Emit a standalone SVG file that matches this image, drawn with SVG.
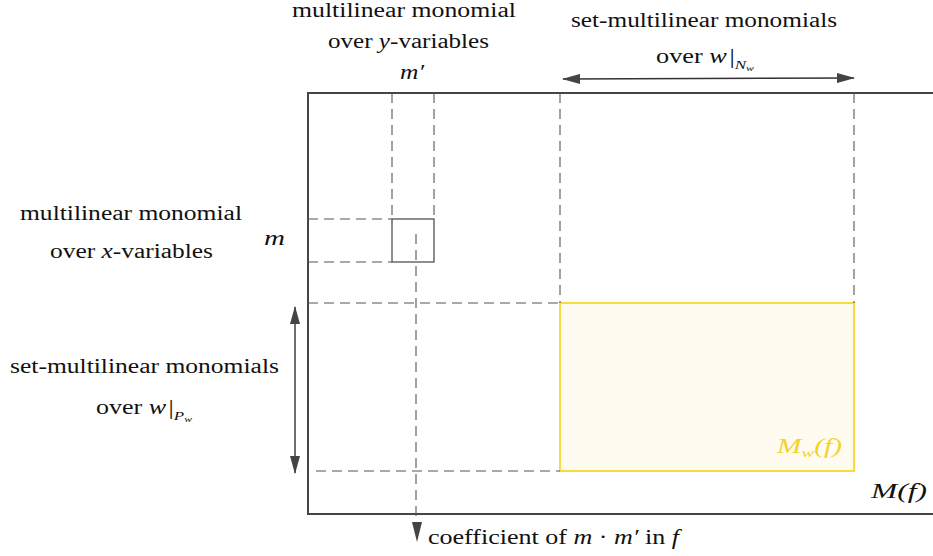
<svg xmlns="http://www.w3.org/2000/svg" width="933" height="556" viewBox="0 0 933 556">
<defs>
<marker id="ah" viewBox="0 0 18 10" refX="17" refY="5" markerWidth="18" markerHeight="10" markerUnits="userSpaceOnUse" orient="auto-start-reverse">
<path d="M0,0 L18,5 L0,10 z" fill="#444"/>
</marker>
<style>
text{font-family:"Liberation Serif","DejaVu Serif",serif;font-size:20px;fill:#111}
.i{font-style:italic}
.s{font-size:13px}
.d{stroke:#555;stroke-width:1.1;stroke-dasharray:10,6;fill:none}
.a{stroke:#333;stroke-width:1.4;fill:none}
</style>
</defs>
<g id="main-matrix">
<rect x="308" y="93" width="640" height="421" fill="none" stroke="#444" stroke-width="2"/>
</g>
<g id="submatrix">
<rect x="560" y="303" width="294" height="168" fill="#fffbf0" stroke="#f6dc3c" stroke-width="2"/>
<text x="777" y="453" textLength="65" lengthAdjust="spacingAndGlyphs" class="i" style="fill:#f3d32a">M<tspan class="s" dy="4">w</tspan><tspan dy="-4">(f)</tspan></text>
</g>
<g id="entry">
<rect x="392" y="219" width="42" height="43" fill="none" stroke="#444" stroke-width="1.2"/>
</g>
<g id="connectors">
<line class="d" x1="392" y1="93" x2="392" y2="219"/>
<line class="d" x1="434" y1="93" x2="434" y2="219"/>
<line class="d" x1="308" y1="219" x2="392" y2="219"/>
<line class="d" x1="308" y1="262" x2="392" y2="262"/>
<line class="d" x1="416" y1="234" x2="416" y2="522"/>
<line class="d" x1="560" y1="93" x2="560" y2="303"/>
<line class="d" x1="854" y1="93" x2="854" y2="303"/>
<line class="d" x1="308" y1="303" x2="560" y2="303"/>
<line class="d" x1="316" y1="471" x2="560" y2="471"/>
<path d="M412,522 L422,522 L417,542 z" fill="#444"/>
<line class="a" x1="563" y1="79" x2="854" y2="78" marker-start="url(#ah)" marker-end="url(#ah)"/>
<line class="a" x1="295" y1="307" x2="295" y2="473" marker-start="url(#ah)" marker-end="url(#ah)"/>
</g>
<g id="labels">
<text x="292" y="17" textLength="224" lengthAdjust="spacingAndGlyphs">multilinear monomial</text>
<text x="328" y="48" textLength="161" lengthAdjust="spacingAndGlyphs">over <tspan class="i">y</tspan>-variables</text>
<text x="400" y="79" textLength="24" lengthAdjust="spacingAndGlyphs" class="i">m′</text>
<text x="571" y="27" textLength="266" lengthAdjust="spacingAndGlyphs">set-multilinear monomials</text>
<text x="656" y="63" textLength="98" lengthAdjust="spacingAndGlyphs">over <tspan class="i">w</tspan><tspan dx="2">|</tspan><tspan class="s i" dy="6">N</tspan><tspan class="i" style="font-size:9px" dy="2">w</tspan></text>
<text x="20" y="220" textLength="222" lengthAdjust="spacingAndGlyphs">multilinear monomial</text>
<text x="50" y="258" textLength="163" lengthAdjust="spacingAndGlyphs">over <tspan class="i">x</tspan>-variables</text>
<text x="264" y="245" textLength="21" lengthAdjust="spacingAndGlyphs" class="i">m</text>
<text x="10" y="373" textLength="269" lengthAdjust="spacingAndGlyphs">set-multilinear monomials</text>
<text x="96" y="414" textLength="96" lengthAdjust="spacingAndGlyphs">over <tspan class="i">w</tspan><tspan dx="2">|</tspan><tspan class="s i" dy="6">P</tspan><tspan class="i" style="font-size:9px" dy="2">w</tspan></text>
<text x="428" y="544" textLength="251" lengthAdjust="spacingAndGlyphs">coefficient of <tspan class="i">m</tspan> · <tspan class="i">m′</tspan> in <tspan class="i">f</tspan></text>
<text x="871" y="498" textLength="56" lengthAdjust="spacingAndGlyphs" class="i">M(f)</text>
</g>
</svg>
